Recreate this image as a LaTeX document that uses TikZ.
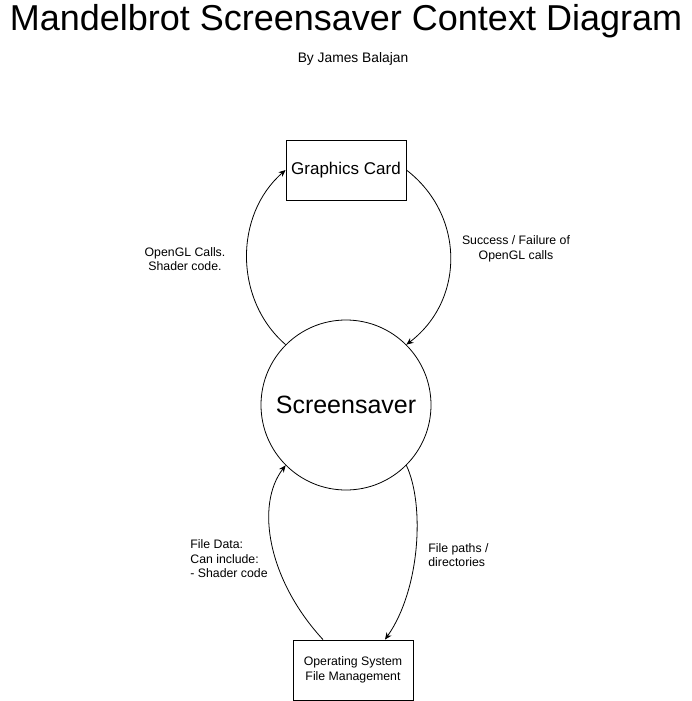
\documentclass[tikz,border=0pt]{standalone}
\usepackage{fontspec}
\setmainfont{Liberation Sans}
\usetikzlibrary{arrows.meta,positioning,shapes.geometric}
\tikzset{
  >=Stealth,
  every picture/.append style={line width=0.8pt},
}
\tikzset{
  box/.style={draw, rectangle, align=center, inner sep=2pt, minimum width=120pt, minimum height=60pt},
  flow/.style={-{Stealth[length=7pt,width=6pt]}, line width=0.8pt},
  note/.style={font=\fontsize{12.3}{14.5}\selectfont, inner sep=1pt}
}
\begin{document}
\begin{tikzpicture}[
    x=1pt, y=-1pt,
    proc/.style={draw, circle, minimum size=170pt, inner sep=0pt, font=\fontsize{25}{29}\selectfont}
]
\useasboundingbox (0,0) rectangle (691,701);

% title
\node (title) at (346,21) {\fontsize{36}{40}\selectfont Mandelbrot Screensaver Context Diagram};
\node (by) at (353,59) {\fontsize{13.8}{16}\selectfont By James Balajan};

% entities
\node[box, font=\fontsize{17}{20}\selectfont] (gpu) at (346,170) {Graphics Card};
\node[proc] (scr) at (346,405) {Screensaver};
\node[box, font=\fontsize{12.3}{15}\selectfont] (os) at (353,670) {Operating System\\File Management};

% flows
\draw[flow] (scr.135) .. controls (234,300) and (234,215) .. (gpu.west);
\draw[flow] (gpu.east) .. controls (465,215) and (465,300) .. (scr.45);
\draw[flow] ([xshift=-30pt]os.north) .. controls (268,580) and (255,505) .. (scr.225);
\draw[flow] (scr.-45) .. controls (425,505) and (420,590) .. ([xshift=32pt]os.north);

% labels
\node[note, align=center] (callsLbl) at (185,259) {OpenGL Calls.\\Shader code.};
\node[note, align=center] (resultLbl) at (516,249) {Success / Failure of\\OpenGL calls};
\node[note, align=left, anchor=west] (dataLbl) at (189,559) {File Data:\\Can include:\\- Shader code};
\node[note, align=left, anchor=west] (pathLbl) at (427,555) {File paths /\\directories};
\end{tikzpicture}
\end{document}
